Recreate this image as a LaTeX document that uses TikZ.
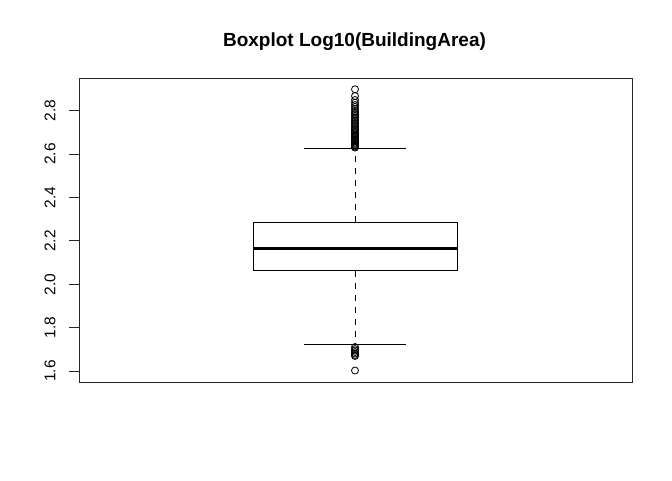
\documentclass[tikz,border=0pt]{standalone}
\usepackage{fontspec}
\setmainfont{Liberation Sans}
\begin{document}
\begin{tikzpicture}[x=1pt,y=-1pt,
  declare function={yv(\v)=371-(\v-1.6)*216.9;},
  frame/.style={line width=0.9pt,draw=black!85},
  boxline/.style={line width=0.9pt,draw=black},
  medline/.style={line width=3pt,draw=black},
  whisk/.style={line width=0.9pt,draw=black,dash pattern=on 6pt off 6pt},
  outl/.style={line width=0.8pt,draw=black,fill=none},
  ticklab/.style={font=\fontsize{15.5}{15.5}\selectfont,rotate=90,inner sep=0pt},
  titlestyle/.style={font=\fontsize{19}{19}\selectfont\bfseries,inner sep=0pt}]
\useasboundingbox (0,0) rectangle (672,480);
\fill[white] (0,0) rectangle (672,480);
% plot frame
\draw[frame] (79,78) rectangle (632,382);
% title
\node[titlestyle] (title) at (354.5,42) {Boxplot Log10(BuildingArea)};
% y axis ticks and labels
\foreach \v/\t in {1.6/1.6,1.8/1.8,2.0/2.0,2.2/2.2,2.4/2.4,2.6/2.6,2.8/2.8}{
  \draw[frame] (69,{yv(\v)}) -- (79,{yv(\v)});
  \node[ticklab] (lab\t) at (50,{yv(\v)}) {\t};
}
% box
\coordinate (q3) at (355,222.3);
\coordinate (q1) at (355,270.7);
\coordinate (wtop) at (355,148);
\coordinate (wbot) at (355,344.3);
\draw[whisk] (q3) -- (wtop);
\draw[whisk] (q1) -- (wbot);
\draw[boxline] (304,148) -- (406,148);
\draw[boxline] (304,344.3) -- (406,344.3);
\draw[boxline,fill=white] (253,222.3) rectangle (457.5,270.7);
\draw[medline] (253,248) -- (457.5,248);
% outliers top
\foreach \y in {89.3,96,100,102.7,105,107,109,111,112.8,114.5,116,117.5,119,120.5,122,123.5,125,126.5,128,129.3,130.6,131.9,133.2,134.5,135.7,136.9,138.1,139.3,140.5,141.6,142.7,143.8,144.8,145.8,146.8,147.6}{
  \draw[outl] (355,\y) circle (3.5);
}
% outliers bottom
\foreach \y in {347,349,350.5,352,353.5,355,356}{
  \draw[outl] (355,\y) circle (3.5);
}
\draw[outl] (355,370.5) circle (3.5);
\end{tikzpicture}
\end{document}
